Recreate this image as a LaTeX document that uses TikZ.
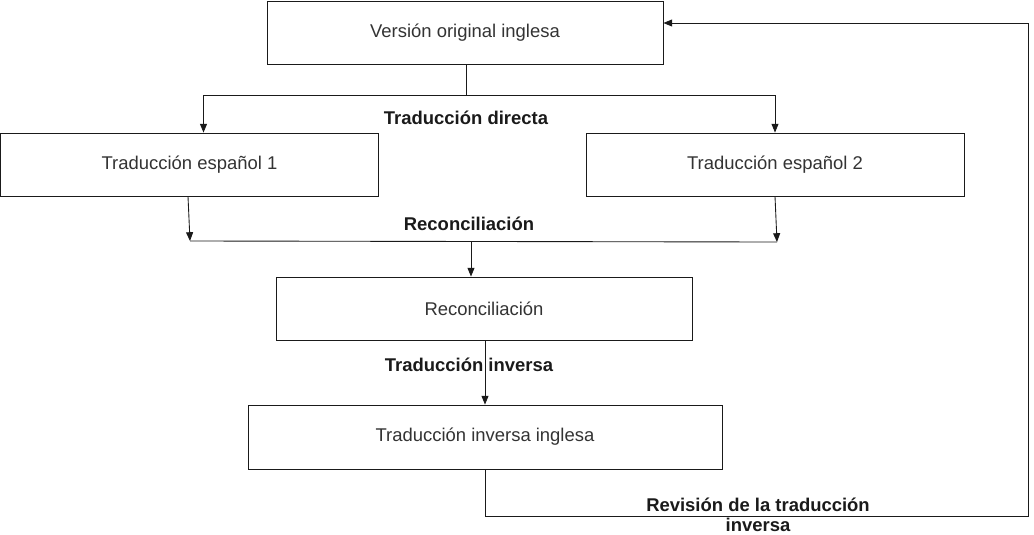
\documentclass[tikz,border=0pt]{standalone}
\usepackage{fontspec}
\setmainfont{Liberation Sans}
\usepackage{xcolor}
\usetikzlibrary{
arrows.meta,
positioning,
calc
}

\definecolor{boxtext}{HTML}{333333}
\definecolor{linecol}{HTML}{1A1A1A}

\begin{document}
\begin{tikzpicture}[
x=0.02cm,y=-0.02cm,
box/.style={
draw=linecol,
line width=0.5pt,
minimum height=1.26cm,
align=center,
text=boxtext,
font=\fontsize{10.5}{12}\selectfont
},
arrow/.style={-{Triangle[width=4pt,length=5pt]},linecol,line width=0.5pt},
link/.style={linecol,line width=0.5pt},
steplabel/.style={
font=\fontsize{10.5}{11.5}\selectfont\bfseries,
text=linecol,
align=center,
inner sep=0pt
}
]
\useasboundingbox (0,0) rectangle (1034,534);

\node[box,minimum width=7.92cm] (orig) at (465,32.5) {Versión original inglesa};

\node[box,minimum width=7.56cm] (es1) at (189.5,164.5) {Traducción español 1};

\node[box,minimum width=7.56cm] (es2) at (775,164.5) {Traducción español 2};

\node[box,minimum width=8.32cm] (rec) at (484,308.5) {Reconciliación};

\node[box,minimum width=9.48cm,minimum height=1.28cm] (inv) at (485,437) {Traducción inversa inglesa};

% junction points
\coordinate (split) at (466,95);
\coordinate (recL) at (190,241);
\coordinate (recR) at (777,242);
\coordinate (recM) at (471,241);
\coordinate (fbA) at (1028,516);
\coordinate (fbB) at (1028,23);

\draw[link] (orig.south -| split) -- (split);
\draw[arrow] (split) -| ([xshift=0.28cm]es1.north);
\draw[arrow] (split) -| (es2.north);

\draw[arrow] ([xshift=-0.03cm]es1.south) -- (recL);
\draw[arrow] (es2.south) -- (recR);
\draw[link] (recL) -- (recR);
\draw[arrow] (recM) -- (recM |- rec.north);

\draw[arrow] (rec.south -| inv.north) -- (inv.north);

\draw[arrow] (inv.south) |- (fbA) -- (fbB) -- (fbB -| orig.east);

\node[steplabel] (ldirect) at (466,118) {Traducción directa};
\node[steplabel] (lrec) at (469,224) {Reconciliación};
\node[steplabel] (linv) at (469,365) {Traducción inversa};
\node[steplabel] (lrev) at (758,515) {Revisión de la traducción\\inversa};

\end{tikzpicture}
\end{document}
